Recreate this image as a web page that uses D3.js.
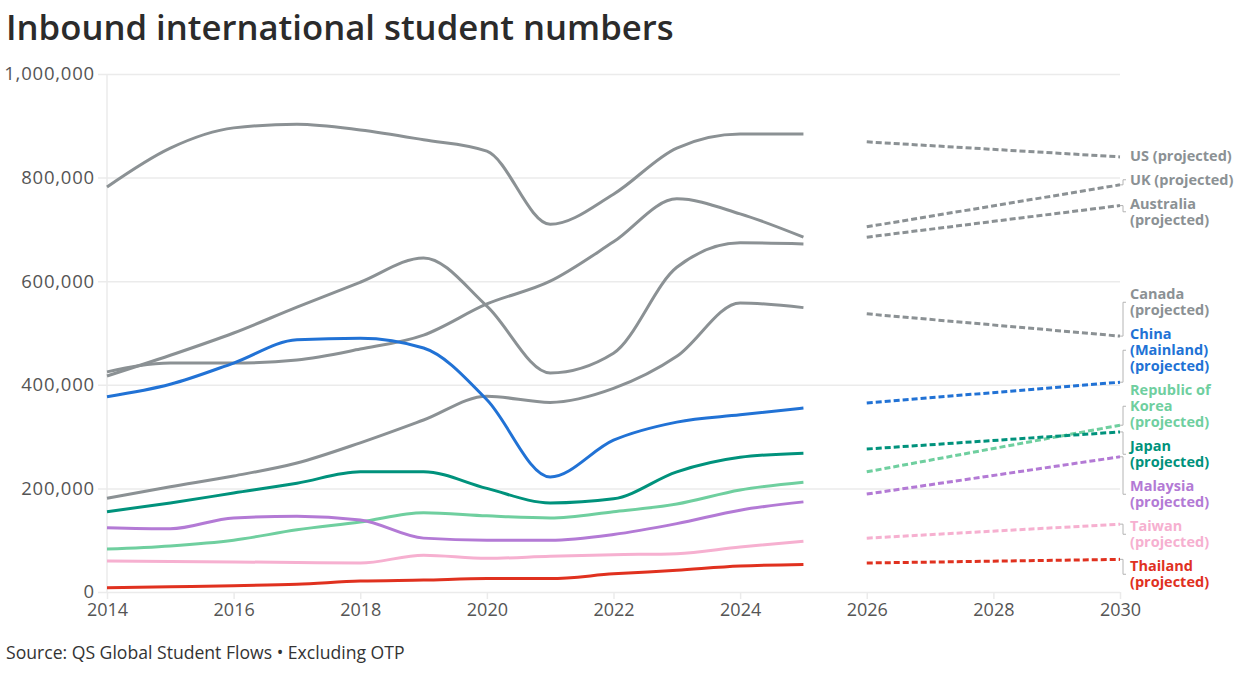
<!DOCTYPE html>
<html>
<head>
<meta charset="utf-8">
<script src="https://cdn.jsdelivr.net/npm/d3@7"></script>
<style>
  body { margin: 0; background: #fff; }
  svg text { font-family: "Open Sans", sans-serif; }
</style>
</head>
<body>
<svg id="chart" width="1256" height="673"></svg>
<script>
// historical years and projected years
const years = [2014, 2015, 2016, 2017, 2018, 2019, 2020, 2021, 2022, 2023, 2024, 2025];
const projYears = [2026, 2030];

const countries = ["US", "UK", "Australia", "Canada", "China (Mainland)", "Republic of Korea",
  "Japan", "Malaysia", "Taiwan", "Thailand"];

// label lines for the right-hand labels
const labelLines = [
  ["US (projected)"],
  ["UK (projected)"],
  ["Australia", "(projected)"],
  ["Canada", "(projected)"],
  ["China", "(Mainland)", "(projected)"],
  ["Republic of", "Korea", "(projected)"],
  ["Japan", "(projected)"],
  ["Malaysia", "(projected)"],
  ["Taiwan", "(projected)"],
  ["Thailand", "(projected)"]
];

const colors = ["#8b9194", "#8b9194", "#8b9194", "#8b9194", "#2172d5", "#6fcf9f",
  "#00927c", "#b37ad5", "#f6b0d0", "#e0311f"];

// student numbers, thousands
const usVals        = [782, 857, 896, 903, 892, 873, 851, 710, 768, 857, 884, 884];
const ukVals        = [425, 442, 442, 448, 469, 496, 556, 600, 676, 759, 730, 685];
const australiaVals = [417, 457, 500, 550, 598, 645, 552, 423, 461, 627, 674, 672];
const canadaVals    = [181, 203, 224, 249, 288, 332, 378, 366, 393, 455, 558, 549];
const chinaVals     = [377, 401, 442, 487, 490, 471, 371, 222, 293, 328, 342, 355];
const koreaVals     = [83, 89, 100, 120, 135, 153, 147, 143, 155, 170, 197, 212];
const japanVals     = [155, 172, 191, 210, 232, 232, 200, 172, 180, 232, 260, 268];
const malaysiaVals  = [124, 122, 143, 146, 139, 104, 100, 100, 111, 132, 158, 174];
const taiwanVals    = [60, 59, 58, 57, 56, 71, 65, 69, 72, 74, 87, 98];
const thailandVals  = [8, 10, 12, 15, 21, 23, 26, 26, 35, 42, 50, 53];

// projections for 2026 and 2030, thousands
const usProj        = [869, 840];
const ukProj        = [705, 786];
const australiaProj = [685, 746];
const canadaProj    = [537, 494];
const chinaProj     = [365, 405];
const koreaProj     = [232, 322];
const japanProj     = [276, 309];
const malaysiaProj  = [189, 261];
const taiwanProj    = [104, 131];
const thailandProj  = [56, 63];

const yTicks = [0, 200000, 400000, 600000, 800000, 1000000];
const xTicks = [2014, 2016, 2018, 2020, 2022, 2024, 2026, 2028, 2030];

const hist = [usVals, ukVals, australiaVals, canadaVals, chinaVals, koreaVals,
  japanVals, malaysiaVals, taiwanVals, thailandVals];
const proj = [usProj, ukProj, australiaProj, canadaProj, chinaProj, koreaProj,
  japanProj, malaysiaProj, taiwanProj, thailandProj];

const series = countries.map((c, i) => ({
  name: c,
  color: colors[i],
  lines: labelLines[i],
  hist: years.map((y, j) => ({ year: y, value: hist[i][j] * 1000 })),
  proj: projYears.map((y, j) => ({ year: y, value: proj[i][j] * 1000 }))
}));

const W = 1256, H = 673;
const margin = { top: 74, right: 136, bottom: 81, left: 107 };

const svg = d3.select('#chart');

const x = d3.scaleLinear().domain([2014, 2030]).range([margin.left, W - margin.right]);
const y = d3.scaleLinear().domain([0, 1000000]).range([H - margin.bottom, margin.top]);

// title
svg.append('text')
  .attr('x', 6).attr('y', 40)
  .style('font-size', '34.7px').style('font-weight', 600)
  .attr('fill', '#2b2b2b')
  .text('Inbound international student numbers');

// y grid + labels
const yAxis = svg.append('g')
  .attr('transform', `translate(${margin.left},0)`)
  .call(d3.axisLeft(y).tickValues(yTicks).tickFormat(d3.format(',')).tickSize(-(W - margin.left - margin.right)).tickPadding(12));
yAxis.select('.domain').remove();
yAxis.selectAll('.tick line').attr('stroke', '#ebebeb').attr('stroke-width', 1.5).attr('x1', -9);
yAxis.selectAll('.tick text').attr('fill', '#555')
  .style('font-size', '18.5px').style('letter-spacing', '0.8px')
  .style('font-family', '"Open Sans", sans-serif').attr('x', -12);

// left vertical axis line
svg.append('line')
  .attr('x1', margin.left).attr('x2', margin.left)
  .attr('y1', margin.top).attr('y2', H - margin.bottom)
  .attr('stroke', '#ebebeb').attr('stroke-width', 1.5);

// x axis
const xAxis = svg.append('g')
  .attr('transform', `translate(0,${H - margin.bottom})`)
  .call(d3.axisBottom(x).tickValues(xTicks).tickFormat(d3.format('d')).tickSize(7).tickPadding(4));
xAxis.select('.domain').remove();
xAxis.selectAll('.tick line').attr('stroke', '#ebebeb').attr('stroke-width', 1.5);
xAxis.selectAll('.tick text').attr('fill', '#555').style('font-size', '18px').style('font-family', '"Open Sans", sans-serif');

const line = d3.line()
  .x(d => x(d.year))
  .y(d => y(d.value))
  .curve(d3.curveMonotoneX);

// grey first, coloured on top
const order = series.slice().sort((a, b) => (b.color === '#8b9194') - (a.color === '#8b9194'));

const lines = svg.append('g');
order.forEach(s => {
  lines.append('path')
    .attr('d', line(s.hist))
    .attr('fill', 'none')
    .attr('stroke', s.color)
    .attr('stroke-width', 3);
  lines.append('path')
    .attr('d', line(s.proj))
    .attr('fill', 'none')
    .attr('stroke', s.color)
    .attr('stroke-width', 3)
    .attr('stroke-dasharray', '6,3');
});

// labels: stack them so they don't overlap
const lineH = 16, gap = 8;
const items = series.map(s => ({
  s: s,
  target: y(s.proj[s.proj.length - 1].value),
  h: s.lines.length * lineH
})).sort((a, b) => a.target - b.target);

let clusters = [];
items.forEach(it => {
  clusters.push({ items: [it], top: it.target - it.h / 2, height: it.h });
  while (clusters.length > 1) {
    const cur = clusters[clusters.length - 1], prev = clusters[clusters.length - 2];
    if (prev.top + prev.height + gap <= cur.top) break;
    const merged = prev.items.concat(cur.items);
    let off = 0, sum = 0;
    merged.forEach(m => { m.off = off + m.h / 2; off += m.h + gap; sum += m.target - m.off; });
    clusters.splice(clusters.length - 2, 2, { items: merged, top: sum / merged.length, height: off - gap });
  }
});
clusters.forEach(c => {
  let off = 0;
  c.items.forEach(m => { m.center = c.top + off + m.h / 2; off += m.h + gap; });
});

const xEnd = x(2030);
const labels = svg.append('g');
items.forEach(m => {
  if (Math.abs(m.center - m.target) > 1.5) {
    labels.append('path')
      .attr('d', `M${xEnd},${m.target}H${xEnd + 3}V${m.center}H${xEnd + 6}`)
      .attr('fill', 'none')
      .attr('stroke', '#b4b4b4')
      .attr('stroke-width', 1);
  }
  const t = labels.append('text')
    .attr('x', xEnd + 10)
    .attr('y', m.center - (m.s.lines.length - 1) * lineH / 2)
    .attr('fill', m.s.color)
    .style('font-size', '14.5px')
    .style('font-weight', 700);
  m.s.lines.forEach((l, i) => {
    t.append('tspan').attr('x', xEnd + 10).attr('dy', i === 0 ? '0.35em' : lineH).text(l);
  });
});

// source
svg.append('text')
  .attr('x', 6).attr('y', 659)
  .style('font-size', '17.6px')
  .attr('fill', '#333')
  .text('Source: QS Global Student Flows • Excluding OTP');
</script>
</body>
</html>
